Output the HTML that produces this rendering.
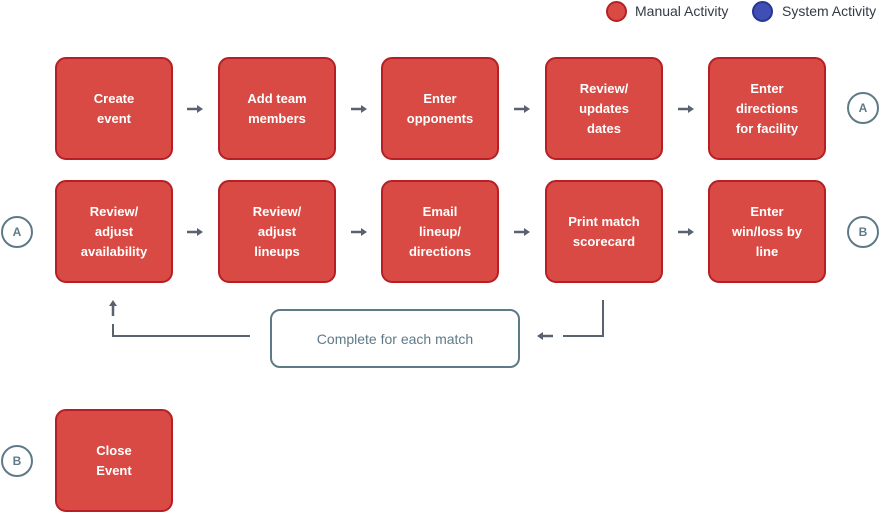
<!DOCTYPE html>
<html><head><meta charset="utf-8"><style>
body{margin:0;width:880px;height:512px;background:#fff;position:relative;overflow:hidden;font-family:"Liberation Sans",sans-serif}
.b{position:absolute;width:114px;height:99px;background:#d84a43;border:2px solid #b62025;border-radius:11px;color:#fff;font-weight:bold;font-size:13px;line-height:20px;display:flex;align-items:center;justify-content:center;text-align:center;box-sizing:content-box}
.c{position:absolute;width:28px;height:28px;border:2px solid #5f7a87;border-radius:50%;color:#5f7a87;font-weight:bold;font-size:12px;display:flex;align-items:center;justify-content:center}
.lg{position:absolute;top:0;font-size:14px;color:#333b45;line-height:22px}
</style></head><body>
<div style="position:absolute;left:606px;top:1px;width:17px;height:17px;border-radius:50%;background:#d84a43;border:2px solid #b62025"></div>
<div class="lg" style="left:635px">Manual Activity</div>
<div style="position:absolute;left:752px;top:1px;width:17px;height:17px;border-radius:50%;background:#3f4fb3;border:2px solid #283593"></div>
<div class="lg" style="left:782px">System Activity</div>

<div class="b" style="left:55px;top:57px">Create<br>event</div>
<div class="b" style="left:218px;top:57px">Add team<br>members</div>
<div class="b" style="left:381px;top:57px">Enter<br>opponents</div>
<div class="b" style="left:545px;top:57px">Review/<br>updates<br>dates</div>
<div class="b" style="left:708px;top:57px">Enter<br>directions<br>for facility</div>

<div class="b" style="left:55px;top:180px">Review/<br>adjust<br>availability</div>
<div class="b" style="left:218px;top:180px">Review/<br>adjust<br>lineups</div>
<div class="b" style="left:381px;top:180px">Email<br>lineup/<br>directions</div>
<div class="b" style="left:545px;top:180px">Print match<br>scorecard</div>
<div class="b" style="left:708px;top:180px">Enter<br>win/loss by<br>line</div>

<div class="b" style="left:55px;top:409px">Close<br>Event</div>

<div class="c" style="left:847px;top:92px">A</div>
<div class="c" style="left:1px;top:216px">A</div>
<div class="c" style="left:847px;top:216px">B</div>
<div class="c" style="left:1px;top:445px">B</div>

<div style="position:absolute;left:270px;top:309px;width:246px;height:55px;border:2px solid #5f7a87;border-radius:10px;color:#5f7a87;font-size:14px;display:flex;align-items:center;justify-content:center">Complete for each match</div>

<svg width="880" height="512" style="position:absolute;left:0;top:0" fill="#5a6270" stroke="#5a6270">
<defs><g id="ar"><line x1="0" y1="0" x2="11" y2="0" stroke-width="2.5"/><polygon points="10,-4 16,0 10,4" stroke="none"/></g></defs>
<use href="#ar" x="187" y="109"/><use href="#ar" x="351" y="109"/><use href="#ar" x="514" y="109"/><use href="#ar" x="678" y="109"/>
<use href="#ar" x="187" y="232"/><use href="#ar" x="351" y="232"/><use href="#ar" x="514" y="232"/><use href="#ar" x="678" y="232"/>
<g transform="translate(113,316) rotate(-90)"><use href="#ar"/></g>
<g transform="translate(553,336) rotate(180)"><use href="#ar"/></g>
<polyline points="113,324 113,336 250,336" fill="none" stroke-width="2"/>
<polyline points="563,336 603,336 603,300" fill="none" stroke-width="2"/>
</svg>
</body></html>
